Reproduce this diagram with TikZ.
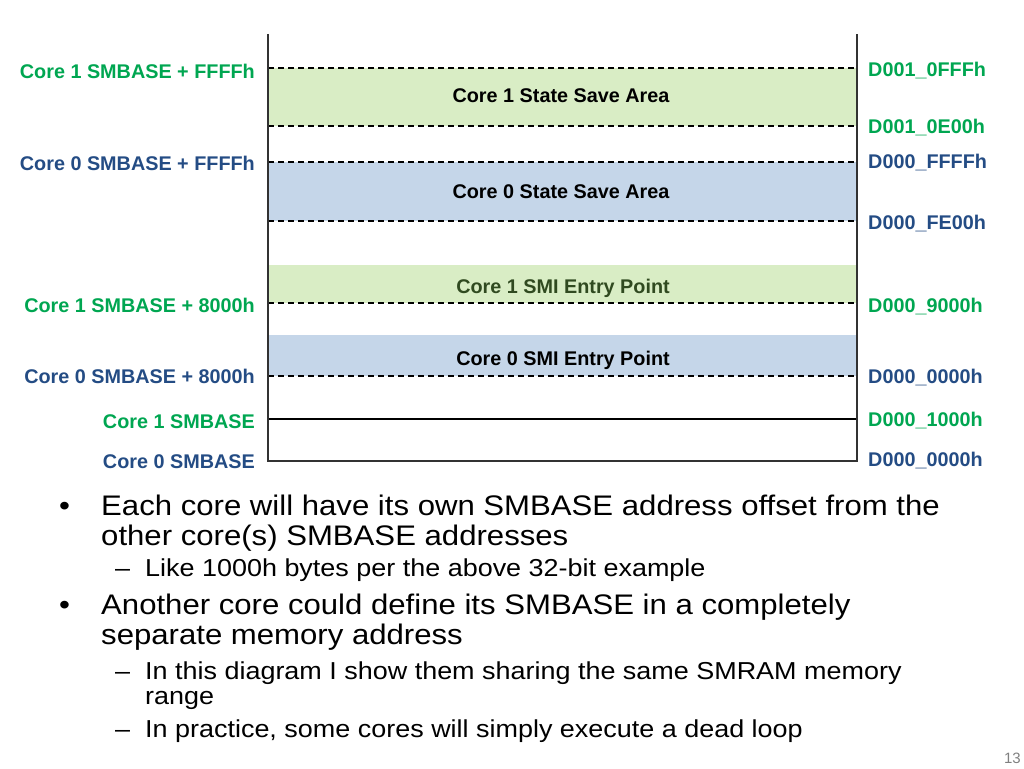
\documentclass[tikz,border=0pt]{standalone}
\usepackage{fontspec}
\setmainfont{Liberation Sans}
\newfontfamily\bodyfont[FakeStretch=1.1]{Liberation Sans}
\definecolor{cgreen}{RGB}{0,166,81}
\definecolor{cblue}{RGB}{36,76,132}
\definecolor{fgreen}{RGB}{217,237,197}
\definecolor{fblue}{RGB}{197,214,233}
\definecolor{dgreen}{RGB}{48,74,32}
\definecolor{frame}{RGB}{50,50,50}
\tikzset{
  lbl/.style={inner sep=0pt, font=\bfseries\fontsize{19.8}{22}\selectfont},
  lleft/.style={lbl, anchor=base east},
  lright/.style={lbl, anchor=base west},
  ctext/.style={lbl, anchor=base},
  dash line/.style={black, line width=1.1pt, dash pattern=on 6pt off 4pt},
  frame line/.style={frame, line width=1.4pt},
  main/.style={inner sep=0pt, anchor=base west, font=\bodyfont\fontsize{28.3}{30}\selectfont},
  sub/.style={inner sep=0pt, anchor=base west, font=\bodyfont\fontsize{24.5}{26}\selectfont},
}
\begin{document}
\begin{tikzpicture}[x=1pt,y=-1pt]
\useasboundingbox (0,0) rectangle (1024,768);
% filled regions
\fill[fgreen] (268,68) rectangle (857,126);
\fill[fblue] (268,162) rectangle (857,221);
\fill[fgreen] (268,265) rectangle (857,303);
\fill[fblue] (268,335) rectangle (857,376);
% boundaries
\coordinate (l1) at (268,68);  \coordinate (r1) at (857,68);
\coordinate (l2) at (268,126); \coordinate (r2) at (857,126);
\coordinate (l3) at (268,162); \coordinate (r3) at (857,162);
\coordinate (l4) at (268,221); \coordinate (r4) at (857,221);
\coordinate (l5) at (268,303); \coordinate (r5) at (857,303);
\coordinate (l6) at (268,376); \coordinate (r6) at (857,376);
\coordinate (l7) at (268,419); \coordinate (r7) at (857,419);
\coordinate (tl) at (268,34);  \coordinate (tr) at (857,34);
\coordinate (bl) at (268,461); \coordinate (br) at (857,461);
\draw[dash line] (l1) -- (r1);
\draw[dash line] (l2) -- (r2);
\draw[dash line] (l3) -- (r3);
\draw[dash line] (l4) -- (r4);
\draw[dash line] (l5) -- (r5);
\draw[dash line] (l6) -- (r6);
\draw[black, line width=1.2pt] (l7) -- (r7);
\draw[frame line] (tl) -- (bl) -- (br) -- (tr);
% center texts
\node[ctext] (t1) at (561,102) {Core 1 State Save Area};
\node[ctext] (t2) at (561,198) {Core 0 State Save Area};
\node[ctext, text=dgreen] (t3) at (563,293) {Core 1 SMI Entry Point};
\node[ctext] (t4) at (563,365) {Core 0 SMI Entry Point};
% left labels
\node[lleft, text=cgreen] (a1) at (255,78) {Core 1 SMBASE + FFFFh};
\node[lleft, text=cblue] (a2) at (255,170) {Core 0 SMBASE + FFFFh};
\node[lleft, text=cgreen] (a3) at (255,312) {Core 1 SMBASE + 8000h};
\node[lleft, text=cblue] (a4) at (255,383) {Core 0 SMBASE + 8000h};
\node[lleft, text=cgreen] (a5) at (255,428) {Core 1 SMBASE};
\node[lleft, text=cblue] (a6) at (255,468) {Core 0 SMBASE};
% right labels
\node[lright, text=cgreen] (b1) at (868,76) {D001\_0FFFh};
\node[lright, text=cgreen] (b2) at (868,133) {D001\_0E00h};
\node[lright, text=cblue] (b3) at (868,168) {D000\_FFFFh};
\node[lright, text=cblue] (b4) at (868,229) {D000\_FE00h};
\node[lright, text=cgreen] (b5) at (868,312) {D000\_9000h};
\node[lright, text=cblue] (b6) at (868,383) {D000\_0000h};
\node[lright, text=cgreen] (b7) at (868,426) {D000\_1000h};
\node[lright, text=cblue] (b8) at (868,466) {D000\_0000h};
% bullets
\node[main] (m0) at (59,515) {•};
\node[main] (m1) at (101,515) {Each core will have its own SMBASE address offset from the};
\node[main] (m2) at (101,545) {other core(s) SMBASE addresses};
\node[sub] (s0) at (115,576) {–};
\node[sub] (s1) at (145,576) {Like 1000h bytes per the above 32-bit example};
\node[main] (n0) at (59,614) {•};
\node[main] (n1) at (101,614) {Another core could define its SMBASE in a completely};
\node[main] (n2) at (101,644) {separate memory address};
\node[sub] (u0) at (115,679) {–};
\node[sub] (u1) at (145,679) {In this diagram I show them sharing the same SMRAM memory};
\node[sub] (u2) at (145,704) {range};
\node[sub] (v0) at (115,737) {–};
\node[sub] (v1) at (145,737) {In practice, some cores will simply execute a dead loop};
\node[inner sep=0pt, anchor=base east, text=gray, font=\fontsize{15}{16}\selectfont] (pg) at (1021,763) {13};
\end{tikzpicture}
\end{document}
